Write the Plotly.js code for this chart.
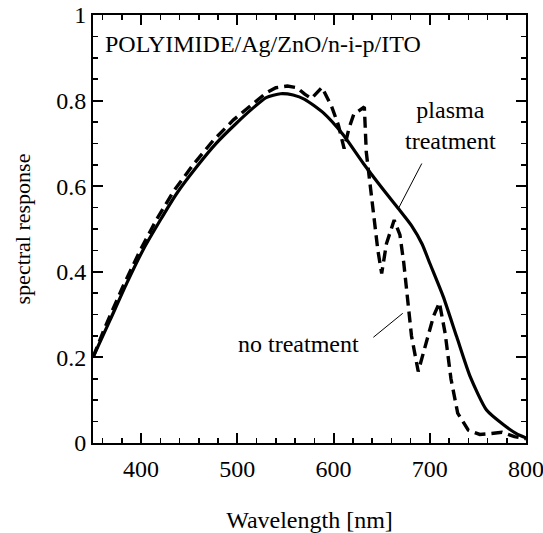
<!DOCTYPE html>
<html>
<head>
<meta charset="utf-8">
<script src="https://cdn.plot.ly/plotly-3.0.1.min.js"></script>
<style>html,body{margin:0;padding:0;background:#fff;}#chart{width:543px;height:533px;}</style>
</head>
<body>
<div id="chart"></div>
<script>
// Plasma treatment (solid)
var plasmaWavelength = [350, 367.7, 385, 402, 420, 437, 458, 478, 499, 515, 530, 545, 558, 570, 590, 610, 631, 652, 668, 681, 692, 700, 714, 728, 742, 759, 777, 790, 800];
var plasmaResponse   = [0.2, 0.287, 0.373, 0.451, 0.521, 0.583, 0.646, 0.700, 0.747, 0.78, 0.807, 0.816, 0.813, 0.803, 0.770, 0.720, 0.653, 0.591, 0.546, 0.508, 0.465, 0.42, 0.342, 0.248, 0.155, 0.077, 0.042, 0.022, 0.012];

// No treatment (dashed)
var noTreatWavelength = [350, 362, 381, 399, 416, 434, 454, 475, 496, 520, 530, 540, 552, 562, 570, 577, 588, 598, 605, 611, 616, 621, 632, 634, 638, 646, 650, 655, 663, 669, 673, 677, 681, 688, 697, 704, 710, 716, 722, 729, 740, 752, 763, 775, 788, 800];
var noTreatResponse   = [0.2, 0.268, 0.365, 0.45, 0.522, 0.589, 0.65, 0.707, 0.755, 0.80, 0.818, 0.83, 0.834, 0.83, 0.815, 0.805, 0.831, 0.786, 0.743, 0.688, 0.735, 0.768, 0.785, 0.68, 0.607, 0.451, 0.396, 0.466, 0.521, 0.486, 0.42, 0.34, 0.25, 0.167, 0.24, 0.297, 0.328, 0.256, 0.15, 0.07, 0.03, 0.02, 0.022, 0.025, 0.015, 0.01];

// Text labels
var sampleLabel = "POLYIMIDE/Ag/ZnO/n-i-p/ITO";
var plasmaLabel = "plasma<br>treatment";
var noTreatLabel = "no treatment";

// Leader lines [x0, y0, x1, y1] in data units
var plasmaLeader  = [691.7, 0.653, 667.4, 0.548];
var noTreatLeader = [641.4, 0.247, 671.9, 0.303];

var FONT = "'Liberation Serif', 'Times New Roman', serif";

var traces = [
  {x: plasmaWavelength, y: plasmaResponse, mode: "lines", name: "plasma treatment",
   line: {color: "#000", width: 3.2, shape: "spline", smoothing: 0.6}},
  {x: noTreatWavelength, y: noTreatResponse, mode: "lines", name: "no treatment",
   line: {color: "#000", width: 3.4, dash: "11px,6px"}}
];

function axisBase() {
  return {
    ticks: "inside", ticklen: 10, tickwidth: 2, tickcolor: "#000",
    showline: true, linewidth: 2, linecolor: "#000", mirror: "ticks",
    showgrid: false, zeroline: false, ticklabeloverflow: "allow",
    tickfont: {family: FONT, size: 24, color: "#000"}
  };
}

var xaxis = axisBase();
Object.assign(xaxis, {
  range: [350, 800], tick0: 0, dtick: 100, ticklabelstandoff: 3,
  minor: {dtick: 20, tick0: 0, ticks: "inside", ticklen: 5, tickwidth: 1.5, tickcolor: "#000"},
  title: {text: "Wavelength [nm]", font: {family: FONT, size: 24, color: "#000"}, standoff: 33}
});
var yaxis = axisBase();
Object.assign(yaxis, {
  range: [0, 1], tick0: 0, dtick: 0.2,
  minor: {dtick: 0.05, tick0: 0, ticks: "inside", ticklen: 5, tickwidth: 1.5, tickcolor: "#000"},
  title: {text: "spectral response", font: {family: FONT, size: 22, color: "#000"}, standoff: 20}
});

var annFont = {family: FONT, size: 24, color: "#000"};
var layout = {
  width: 543, height: 533,
  margin: {l: 93, r: 17, t: 15, b: 90},
  paper_bgcolor: "#fff", plot_bgcolor: "#fff",
  showlegend: false,
  xaxis: xaxis, yaxis: yaxis,
  annotations: [
    {x: 360.4, y: 0.932, xref: "x", yref: "y", text: sampleLabel, showarrow: false, xanchor: "left", yanchor: "middle", font: annFont},
    {x: 721.8, y: 0.743, xref: "x", yref: "y", text: plasmaLabel, showarrow: false, xanchor: "center", yanchor: "middle", align: "center", font: annFont},
    {x: 563.9, y: 0.232, xref: "x", yref: "y", text: noTreatLabel, showarrow: false, xanchor: "center", yanchor: "middle", font: annFont}
  ],
  shapes: [
    {type: "line", xref: "x", yref: "y", x0: plasmaLeader[0], y0: plasmaLeader[1], x1: plasmaLeader[2], y1: plasmaLeader[3], line: {color: "#000", width: 1}},
    {type: "line", xref: "x", yref: "y", x0: noTreatLeader[0], y0: noTreatLeader[1], x1: noTreatLeader[2], y1: noTreatLeader[3], line: {color: "#000", width: 1}}
  ]
};

Plotly.newPlot("chart", traces, layout, {displayModeBar: false, staticPlot: true});
</script>
</body>
</html>
